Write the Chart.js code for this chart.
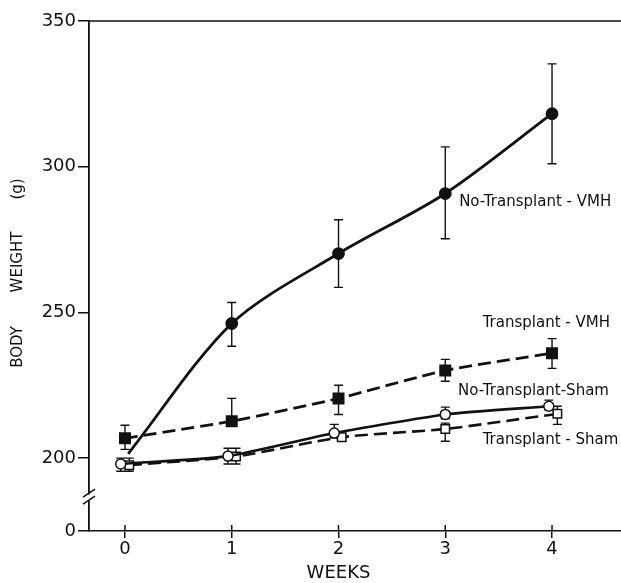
<!DOCTYPE html>
<html>
<head>
<meta charset="utf-8">
<script src="https://cdn.jsdelivr.net/npm/chart.js@4.4.1/dist/chart.umd.min.js"></script>
<style>
  html, body { margin: 0; padding: 0; background: #fff; overflow: hidden; }
  #wrap { width: 621px; height: 583px; position: relative; }
  canvas { display: block; }
</style>
</head>
<body>
<div id="wrap"><canvas id="weightChart"></canvas></div>
<script>
// Body weight over weeks, four groups
const weekTicks = [0, 1, 2, 3, 4];
const yTicks = [0, 200, 250, 300, 350];

const noTransVmhX = [0.03, 1, 2, 3, 4];
const noTransVmh = [201.5, 246.2, 270.2, 290.8, 318.2];
const noTransVmhHi = [null, 253.4, 281.8, 306.8, 335.3];
const noTransVmhLo = [null, 238.4, 258.6, 275.3, 301.0];

const transVmhX = [0, 1, 2, 3, 4];
const transVmh = [206.8, 212.7, 220.5, 230.1, 236.0];
const transVmhHi = [211.3, 220.5, 225.0, 233.9, 241.0];
const transVmhLo = [203.0, 211.0, 215.0, 226.4, 230.8];

const noTransShamX = [-0.04, 0.965, 1.96, 3, 3.97];
const noTransSham = [198.0, 200.7, 208.6, 215.0, 217.8];
const noTransShamHi = [200.0, 203.4, 211.6, 217.5, 219.9];
const noTransShamLo = [195.5, 198.0, 207.0, 213.5, 216.5];

const transShamX = [0.04, 1.04, 2.03, 3, 4.05];
const transSham = [197.6, 200.6, 207.2, 210.0, 215.2];
const transShamHi = [200.0, 203.4, 208.5, 212.0, 217.8];
const transShamLo = [195.5, 198.0, 206.0, 205.8, 211.6];

// the axis is broken between 0 and 200: 0 sits where 175 would be
const BREAK_ZERO = 175;
const toAxis = v => (v >= 200 ? v : BREAK_ZERO + v);

const INK = '#111';
const FONT = '"DejaVu Sans", sans-serif';

const pts = (xs, ys) => xs.map((x, i) => ({ x, y: ys[i] }));

const datasets = [
  {
    label: 'No-Transplant - VMH',
    data: pts(noTransVmhX, noTransVmh),
    errHi: noTransVmhHi, errLo: noTransVmhLo,
    borderColor: INK, borderWidth: 2.8, tension: 0.3,
    pointStyle: 'circle', pointRadius: [0, 5, 5, 5, 5],
    pointBackgroundColor: INK, pointBorderColor: INK,
  },
  {
    label: 'Transplant - VMH',
    data: pts(transVmhX, transVmh),
    errHi: transVmhHi, errLo: transVmhLo,
    borderColor: INK, borderWidth: 2.8, borderDash: [13, 6], tension: 0.2,
    pointStyle: 'rect', pointRadius: 6.5,
    pointBackgroundColor: INK, pointBorderColor: INK,
  },
  {
    label: 'No-Transplant-Sham',
    data: pts(noTransShamX, noTransSham),
    errHi: noTransShamHi, errLo: noTransShamLo,
    borderColor: INK, borderWidth: 2.6, tension: 0.2,
    pointStyle: 'circle', pointRadius: 5, pointBorderWidth: 1.5,
    pointBackgroundColor: '#fff', pointBorderColor: INK,
  },
  {
    label: 'Transplant - Sham',
    data: pts(transShamX, transSham),
    errHi: transShamHi, errLo: transShamLo,
    borderColor: INK, borderWidth: 2.6, borderDash: [13, 6], tension: 0.2,
    pointStyle: 'rect', pointRadius: 6, pointBorderWidth: 1.5,
    pointBackgroundColor: '#fff', pointBorderColor: INK,
  },
];

// where each curve's name sits, in data units (left edge, middle)
const seriesLabels = [
  { text: 'No-Transplant - VMH', x: 3.13, y: 288 },
  { text: 'Transplant - VMH', x: 3.35, y: 246.4 },
  { text: 'No-Transplant-Sham', x: 3.12, y: 223 },
  { text: 'Transplant - Sham', x: 3.35, y: 206.2 },
];

const errorBars = {
  id: 'errorBars',
  beforeDatasetsDraw(chart) {
    const { ctx } = chart;
    const y = chart.scales.y;
    ctx.save();
    ctx.strokeStyle = INK;
    ctx.lineWidth = 1.4;
    chart.data.datasets.forEach((ds, di) => {
      const meta = chart.getDatasetMeta(di);
      meta.data.forEach((pt, i) => {
        const hi = ds.errHi[i], lo = ds.errLo[i];
        if (hi == null || lo == null) return;
        const yh = y.getPixelForValue(hi), yl = y.getPixelForValue(lo);
        ctx.beginPath();
        ctx.moveTo(pt.x, yh); ctx.lineTo(pt.x, yl);
        ctx.moveTo(pt.x - 4.5, yh); ctx.lineTo(pt.x + 4.5, yh);
        ctx.moveTo(pt.x - 4.5, yl); ctx.lineTo(pt.x + 4.5, yl);
        ctx.stroke();
      });
    });
    ctx.restore();
  },
};

const decorations = {
  id: 'decorations',
  afterDraw(chart) {
    const { ctx, chartArea: a } = chart;
    const x = chart.scales.x, y = chart.scales.y;
    ctx.save();
    ctx.strokeStyle = INK;
    ctx.fillStyle = INK;

    // top frame line
    ctx.lineWidth = 1.6;
    ctx.beginPath();
    ctx.moveTo(a.left, a.top); ctx.lineTo(a.right, a.top);
    ctx.stroke();

    // upper half of the x ticks (they cross the axis)
    ctx.lineWidth = 1.5;
    weekTicks.forEach(w => {
      const px = x.getPixelForValue(w);
      ctx.beginPath();
      ctx.moveTo(px, a.bottom - 6); ctx.lineTo(px, a.bottom);
      ctx.stroke();
    });

    // axis break
    const yb = (y.getPixelForValue(200) + a.bottom) / 2 + 3;
    ctx.fillStyle = '#fff';
    ctx.fillRect(a.left - 3, yb - 3, 6, 6);
    ctx.lineWidth = 1.5;
    ctx.beginPath();
    ctx.moveTo(a.left - 6, yb - 0.5); ctx.lineTo(a.left + 6, yb - 8.5);
    ctx.moveTo(a.left - 6, yb + 6.5); ctx.lineTo(a.left + 6, yb - 1.5);
    ctx.stroke();

    // curve names
    ctx.fillStyle = INK;
    ctx.font = '15px ' + FONT;
    ctx.textBaseline = 'middle';
    ctx.textAlign = 'left';
    seriesLabels.forEach(l => {
      ctx.fillText(l.text, x.getPixelForValue(l.x), y.getPixelForValue(l.y));
    });

    // axis titles
    ctx.font = '18px ' + FONT;
    ctx.textAlign = 'center';
    ctx.fillText('WEEKS', x.getPixelForValue(2), 573);

    ctx.font = '15px ' + FONT;
    ctx.translate(18, 0);
    ctx.rotate(-Math.PI / 2);
    [['BODY', 347], ['WEIGHT', 262], ['(g)', 189]].forEach(([t, py]) => {
      ctx.fillText(t, -py, 0);
    });
    ctx.restore();
  },
};

new Chart(document.getElementById('weightChart'), {
  type: 'line',
  data: { datasets },
  options: {
    responsive: true,
    maintainAspectRatio: false,
    animation: false,
    layout: { autoPadding: false, padding: { top: 21, right: 0, left: 0, bottom: 0 } },
    plugins: { legend: { display: false }, tooltip: { enabled: false } },
    scales: {
      x: {
        type: 'linear',
        min: -0.337,
        max: 4.646,
        afterBuildTicks: s => { s.ticks = weekTicks.map(v => ({ value: v })); },
        afterFit: s => { s.height = 52; s.paddingLeft = 0; s.paddingRight = 0; },
        grid: { drawOnChartArea: false, color: INK, lineWidth: 1.5, tickLength: 7 },
        border: { display: true, color: INK, width: 1.6 },
        ticks: { color: INK, padding: 1, font: { family: FONT, size: 18 } },
      },
      y: {
        type: 'linear',
        min: BREAK_ZERO,
        max: 350,
        afterBuildTicks: s => { s.ticks = yTicks.map(v => ({ value: toAxis(v) })); },
        afterFit: s => { s.width = 89; s.paddingTop = 0; s.paddingBottom = 0; },
        grid: { drawOnChartArea: false, color: INK, lineWidth: 1.5, tickLength: 11 },
        border: { display: true, color: INK, width: 1.8 },
        ticks: {
          color: INK, padding: 2, font: { family: FONT, size: 18 },
          callback: v => (v === BREAK_ZERO ? '0' : String(v)),
        },
      },
    },
  },
  plugins: [errorBars, decorations],
});
</script>
</body>
</html>
